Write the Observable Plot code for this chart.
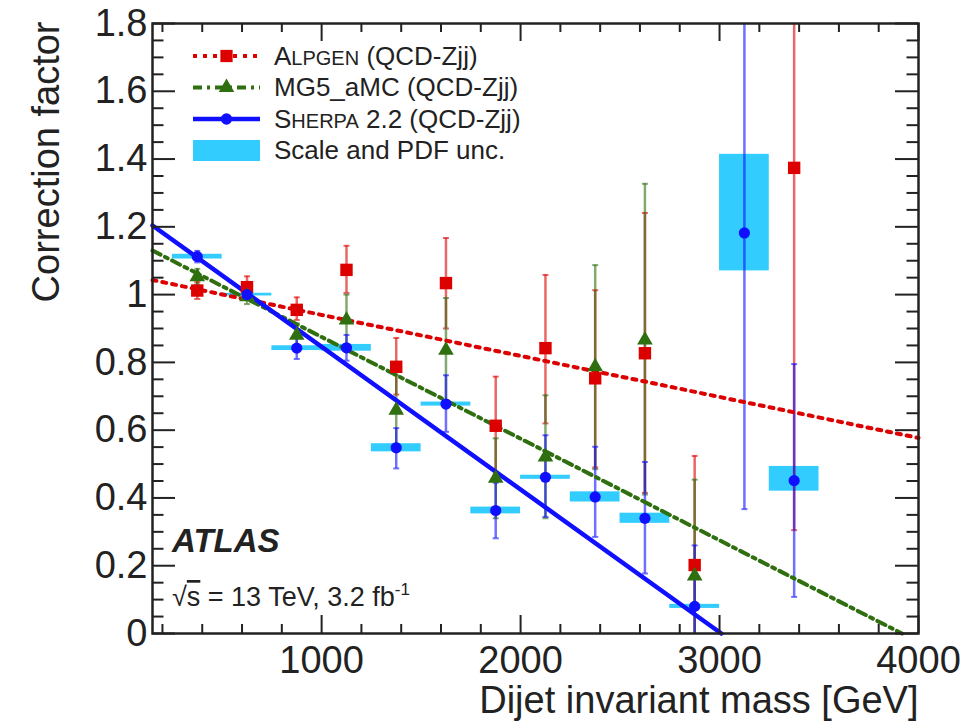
<!DOCTYPE html>
<html><head><meta charset="utf-8">
<script src="https://cdn.jsdelivr.net/npm/d3@7"></script>
<script src="https://cdn.jsdelivr.net/npm/@observablehq/plot@0.6"></script>
<style>
html,body{margin:0;padding:0;background:#fff;}
#chart{width:967px;height:725px;}
</style></head><body><div id="chart"></div>
<script>
// ---- data ----
const binCenters = [375, 625, 875, 1125, 1375, 1625, 1875, 2125, 2375, 2625, 2875, 3125, 3375];
const binHalfWidth = 125;

const alpgenValue = [1.012, 1.022, 0.955, 1.073, 0.787, 1.034, 0.613, 0.842, 0.753, 0.827, 0.202, null, 1.374];
const alpgenLow   = [0.987, 0.990, 0.925, 1.005, 0.705, 0.900, 0.470, 0.620, 0.490, 0.415, -0.120, null, 0.305];
const alpgenHigh  = [1.037, 1.054, 0.992, 1.144, 0.872, 1.167, 0.758, 1.058, 1.013, 1.241, 0.524, null, 2.440];

const mg5Value = [1.053, 0.994, 0.880, 0.925, 0.659, 0.836, 0.458, 0.521, 0.787, 0.866, 0.170, null, null];
const mg5Low   = [1.030, 0.972, 0.845, 0.850, 0.560, 0.680, 0.340, 0.340, 0.485, 0.410, -0.110, null, null];
const mg5High  = [1.076, 1.016, 0.915, 1.000, 0.762, 0.990, 0.576, 0.703, 1.087, 1.327, 0.454, null, null];

const sherpaValue = [1.112, 1.000, 0.842, 0.843, 0.548, 0.677, 0.363, 0.461, 0.403, 0.340, 0.080, 1.182, 0.451];
const sherpaLow   = [1.095, 0.985, 0.810, 0.805, 0.487, 0.595, 0.281, 0.344, 0.285, 0.177, -0.100, 0.367, 0.108];
const sherpaHigh  = [1.129, 1.015, 0.874, 0.881, 0.606, 0.762, 0.445, 0.585, 0.551, 0.506, 0.260, 2.000, 0.795];

const scalePdfLow  = [1.105, 0.996, 0.835, 0.833, 0.536, 0.671, 0.353, 0.455, 0.388, 0.325, 0.074, 1.070, 0.420];
const scalePdfHigh = [1.119, 1.004, 0.849, 0.853, 0.560, 0.683, 0.373, 0.467, 0.418, 0.355, 0.086, 1.414, 0.493];

// linear fits (end points)
const alpgenFitMass = [150, 4000];  const alpgenFitValue = [1.043, 0.577];
const mg5FitMass    = [150, 3917];  const mg5FitValue    = [1.130, 0.0];
const sherpaFitMass = [150, 3009];  const sherpaFitValue = [1.204, 0.0];

const xTickValues = [1000, 2000, 3000, 4000];
const xTickLabels = ["1000", "2000", "3000", "4000"];
const yTickValues = [0, 0.2, 0.4, 0.6, 0.8, 1.0, 1.2, 1.4, 1.6, 1.8];
const yTickLabels = ["0", "0.2", "0.4", "0.6", "0.8", "1", "1.2", "1.4", "1.6", "1.8"];

const xTitle = "Dijet invariant mass [GeV]";
const yTitle = "Correction factor";

// ---- layout / style ----
const W = 967, H = 725;
const mT = 23, mR = 49, mB = 92, mL = 152;
const innerW = W - mL - mR, innerH = H - mT - mB;
const font = `"Liberation Sans", Arial, Helvetica, sans-serif`;
const red = "#dd0000", green = "#2f6f10", blue = "#1010ff", cyan = "#33ccff", ink = "#222";
const redDash = "4,6", greenDash = "9,5,3,5";
const yMax = 1.8, yMin = 0;

function series(vals, lo, hi) {
  return binCenters.map((m, i) => ({m, v: vals[i], lo: lo[i], hi: hi[i]})).filter(d => d.v != null);
}
const alp = series(alpgenValue, alpgenLow, alpgenHigh);
const mg5 = series(mg5Value, mg5Low, mg5High);
const she = series(sherpaValue, sherpaLow, sherpaHigh);
const unc = binCenters.map((m, i) => ({x1: m - binHalfWidth, x2: m + binHalfWidth, y1: scalePdfLow[i], y2: scalePdfHigh[i]}));
const fit = (ms, vs) => ms.map((m, i) => ({m, v: vs[i]}));

const capSymbol = {draw(ctx, size) { const r = Math.sqrt(size / Math.PI); ctx.moveTo(-r, 0); ctx.lineTo(r, 0); }};

function errorMarks(d, c) {
  return [
    Plot.ruleX(d, {x: "m", y1: "lo", y2: "hi", stroke: c, strokeWidth: 2.5, strokeOpacity: 0.6}),
    Plot.dot(d.filter(e => e.lo >= yMin), {x: "m", y: "lo", symbol: capSymbol, r: 3, stroke: c, strokeWidth: 2, strokeOpacity: 0.6}),
    Plot.dot(d.filter(e => e.hi <= yMax), {x: "m", y: "hi", symbol: capSymbol, r: 3, stroke: c, strokeWidth: 2, strokeOpacity: 0.6})
  ];
}

const xMinor = d3.range(200, 4000, 200).filter(v => !xTickValues.includes(v));
const yMinor = d3.range(0, 37).map(k => k * 0.05).filter(v => !yTickValues.some(t => Math.abs(t - v) < 1e-6));

const xMajLen = 18, xMinLen = 9, yMajLen = 23, yMinLen = 11.5;
const tickStyle = {stroke: ink, strokeWidth: 2};

const svg = Plot.plot({
  width: W, height: H,
  marginTop: mT, marginRight: mR, marginBottom: mB, marginLeft: mL,
  style: {fontFamily: font, background: "#fff", overflow: "visible"},
  x: {domain: [150, 4000], axis: null},
  y: {domain: [yMin, yMax], axis: null, clamp: true},
  marks: [
    Plot.rect(unc, {x1: "x1", x2: "x2", y1: "y1", y2: "y2", fill: cyan}),
    ...errorMarks(alp, red),
    ...errorMarks(mg5, green),
    ...errorMarks(she, blue),
    Plot.line(fit(alpgenFitMass, alpgenFitValue), {x: "m", y: "v", stroke: red, strokeWidth: 4, strokeDasharray: redDash}),
    Plot.line(fit(mg5FitMass, mg5FitValue), {x: "m", y: "v", stroke: green, strokeWidth: 4, strokeDasharray: greenDash}),
    Plot.line(fit(sherpaFitMass, sherpaFitValue), {x: "m", y: "v", stroke: blue, strokeWidth: 4.5}),
    Plot.dot(alp, {x: "m", y: "v", symbol: "square", r: 7, fill: red}),
    Plot.dot(mg5, {x: "m", y: "v", symbol: "triangle", r: 5.8, fill: green}),
    Plot.dot(she, {x: "m", y: "v", symbol: "circle", r: 5.6, fill: blue}),
    // inward ticks on all four sides
    Plot.tickX(xMinor, {x: d => d, insetTop: innerH - xMinLen, ...tickStyle}),
    Plot.tickX(xTickValues, {x: d => d, insetTop: innerH - xMajLen, ...tickStyle}),
    Plot.tickX(xMinor, {x: d => d, insetBottom: innerH - xMinLen, ...tickStyle}),
    Plot.tickX(xTickValues, {x: d => d, insetBottom: innerH - xMajLen, ...tickStyle}),
    Plot.tickY(yMinor, {y: d => d, insetRight: innerW - yMinLen, ...tickStyle}),
    Plot.tickY(yTickValues, {y: d => d, insetRight: innerW - yMajLen, ...tickStyle}),
    Plot.tickY(yMinor, {y: d => d, insetLeft: innerW - yMinLen, ...tickStyle}),
    Plot.tickY(yTickValues, {y: d => d, insetLeft: innerW - yMajLen, ...tickStyle}),
    Plot.frame({stroke: ink, strokeWidth: 2.5}),
    // tick labels
    Plot.text(yTickValues, {y: d => d, text: (d, i) => yTickLabels[i], frameAnchor: "left", dx: -5, textAnchor: "end", fontSize: 38, fill: ink}),
    Plot.text(xTickValues, {x: d => d, text: (d, i) => xTickLabels[i], frameAnchor: "bottom", dy: 39, fontSize: 38, fill: ink}),
    // axis titles
    Plot.text([xTitle], {text: d => d, frameAnchor: "bottom-right", dy: 79, textAnchor: "end", fontSize: 38, fill: ink}),
    Plot.text([yTitle], {text: d => d, frameAnchor: "top-left", dx: -120, dy: -2, rotate: -90, textAnchor: "end", fontSize: 38, fill: ink})
  ]
});

// ---- legend and experiment label (annotation, not data) ----
const root = d3.select(svg);
const ann = root.append("g").attr("font-family", font).attr("fill", ink).attr("text-anchor", "start");
const legendRows = [
  {parts: [["A", 26], ["LPGEN", 20], [" (QCD-Zjj)", 26]], color: red, dash: redDash, sym: d3.symbolSquare, size: 150},
  {parts: [["MG5_aMC (QCD-Zjj)", 26]], color: green, dash: greenDash, sym: d3.symbolTriangle, size: 105},
  {parts: [["S", 26], ["HERPA", 20], [" 2.2 (QCD-Zjj)", 26]], color: blue, dash: null, sym: d3.symbolCircle, size: 100},
  {parts: [["Scale and PDF unc.", 26]], box: cyan}
];
const rowY0 = 56, rowStep = 31.5, sx0 = 193, sx1 = 260, tx = 274;
legendRows.forEach((r, i) => {
  const cy = rowY0 + i * rowStep;
  if (r.box) {
    ann.append("rect").attr("x", sx0).attr("y", cy - 10.5).attr("width", sx1 - sx0).attr("height", 21).attr("fill", r.box);
  } else {
    ann.append("line").attr("x1", sx0).attr("x2", sx1).attr("y1", cy).attr("y2", cy)
      .attr("stroke", r.color).attr("stroke-width", i === 2 ? 4.5 : 4).attr("stroke-dasharray", r.dash);
    ann.append("path").attr("transform", `translate(${(sx0 + sx1) / 2},${cy})`)
      .attr("d", d3.symbol(r.sym, r.size)()).attr("fill", r.color);
  }
  const t = ann.append("text").attr("x", tx).attr("y", cy + 8.5);
  r.parts.forEach(([s, fs]) => t.append("tspan").attr("font-size", fs).text(s));
});
ann.append("text").attr("x", 172).attr("y", 552).attr("font-size", 33)
  .attr("font-weight", "bold").attr("font-style", "italic").text("ATLAS");
const lum = ann.append("text").attr("x", 172).attr("y", 606).attr("font-size", 27);
lum.append("tspan").text("√");
lum.append("tspan").attr("text-decoration", "overline").text("s");
lum.append("tspan").text(" = 13 TeV, 3.2 fb");
lum.append("tspan").attr("font-size", 17).attr("dy", -11).text("-1");

document.getElementById("chart").appendChild(svg);
</script>
</body></html>
